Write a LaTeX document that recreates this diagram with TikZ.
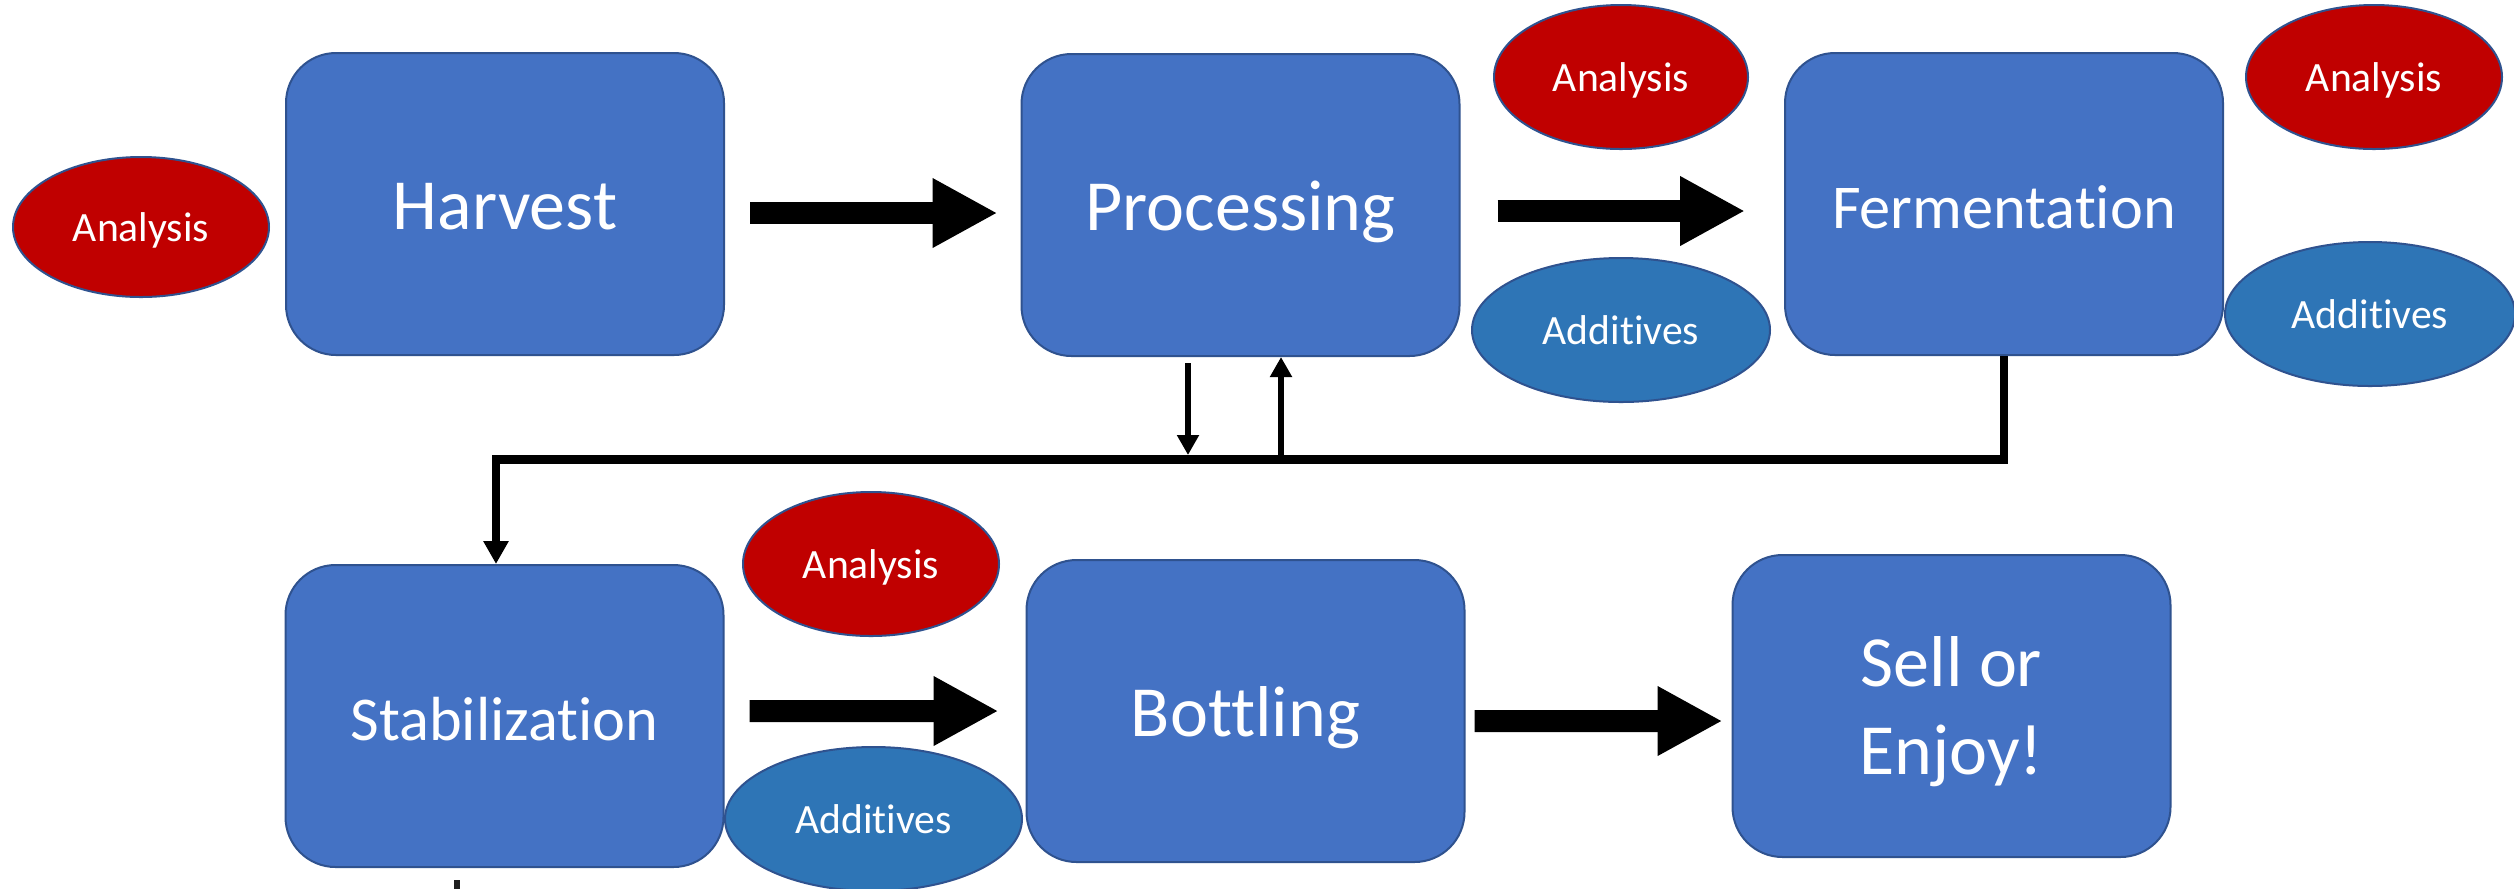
\documentclass[tikz,border=0pt]{standalone}
\usepackage{fontspec}
\setmainfont{Carlito}[Ligatures=NoCommon]
\usetikzlibrary{shapes.geometric,arrows.meta,calc}
\definecolor{boxblue}{HTML}{4472C4}
\definecolor{edgeblue}{HTML}{2F528F}
\definecolor{anred}{HTML}{C00000}
\definecolor{addblue}{HTML}{2E75B6}
\tikzset{
  basebox/.style={draw=edgeblue, line width=0.6pt, fill=boxblue, rounded corners=15pt,
    minimum width=131.4pt, minimum height=90.6pt, inner sep=0pt, text=white,
    align=center, font=\fontsize{21.6}{26.4}\selectfont},
  stepbox/.style={basebox, text height=20pt, text depth=5pt},
  smallbox/.style={basebox, font=\fontsize{18.7}{22.8}\selectfont, text height=18pt, text depth=3.6pt},
  anal/.style={ellipse, draw=edgeblue, line width=0.6pt, fill=anred, inner sep=0pt,
    text=white, font=\fontsize{12.5}{15}\selectfont, text height=10pt, text depth=1.2pt},
  addv/.style={ellipse, draw=edgeblue, line width=0.6pt, fill=addblue, inner sep=0pt,
    text=white, font=\fontsize{12.5}{15}\selectfont, text height=10pt, text depth=1.2pt},
  blockarr/.style={line width=6.6pt, -{Triangle[length=19.5pt,width=19.5pt]}},
  thinarr/.style={line width=2pt, -{Triangle[length=6pt,width=6.3pt]}},
  loopline/.style={line width=2.55pt, -{Triangle[length=6.9pt,width=7.2pt]}},
}
\begin{document}
\begin{tikzpicture}[x=0.3pt,y=-0.3pt]
\fill[white] (0,0) rectangle (2514,888);
\useasboundingbox (0,0) rectangle (2514,888);

% process boxes
\node[stepbox] (harv) at (505,204) {Harvest};
\node[stepbox] (proc) at (1240.5,205) {Processing};
\node[smallbox] (ferm) at (2004,204) {Fermentation};
\node[smallbox] (stab) at (504.5,716) {Stabilization};
\node[stepbox] (bott) at (1245.5,711) {Bottling};
\node[basebox] (sell) at (1951.5,706)
  {\raisebox{0pt}[10pt][22pt]{\def\arraystretch{1}\begin{tabular}[t]{@{}c@{}}Sell or\\Enjoy!\end{tabular}}};

% analysis / additives ellipses
\node[anal, minimum width=76.8pt, minimum height=42pt] (a1) at (141,227) {Analysis};
\node[anal, minimum width=76.2pt, minimum height=43.2pt] (a2) at (1621,77) {Analysis};
\node[anal, minimum width=76.8pt, minimum height=43.2pt] (a3) at (2374,77) {Analysis};
\node[anal, minimum width=76.8pt, minimum height=43.2pt] (a4) at (871,564) {Analysis};
\node[addv, minimum width=89.4pt, minimum height=43.2pt] (d1) at (1621,330) {Additives};
\node[addv, minimum width=87pt, minimum height=43.2pt] (d2) at (2370,314) {Additives};
\node[addv, minimum width=89.1pt, minimum height=43.2pt] (d3) at (873.5,819) {Additives};

% block arrows
\draw[blockarr, shorten <=7.5pt, shorten >=6.9pt] ([yshift=-2.7pt]harv.east) -- ([yshift=-2.4pt]proc.west);
\draw[blockarr, shorten <=11.1pt, shorten >=11.7pt] ([yshift=-1.8pt]proc.east) -- ([yshift=-2.1pt]ferm.west);
\draw[blockarr, shorten <=7.5pt, shorten >=8.1pt] ([yshift=1.5pt]stab.east) -- (bott.west);
\draw[blockarr, shorten <=2.7pt, shorten >=2.7pt] ([yshift=-3pt]bott.east) -- ([yshift=-4.5pt]sell.west);

% loop from fermentation back to stabilization
\coordinate (turn) at (496,459.5);
\draw[loopline] (ferm.south) |- (turn) -- (turn |- stab.north);

% exchange arrows with processing
\coordinate (pd) at (1188,363);
\coordinate (j1) at (1188,455);
\coordinate (j2) at (1281,455);
\draw[thinarr] (pd) -- (j1);
\draw[thinarr] (j2) -- (proc.south -| j2);

% small tick at the bottom edge
\coordinate (tickA) at (457,880);
\coordinate (tickB) at (457,890);
\draw[line width=1.8pt, color=black!88] (tickA) -- (tickB);
\end{tikzpicture}
\end{document}
